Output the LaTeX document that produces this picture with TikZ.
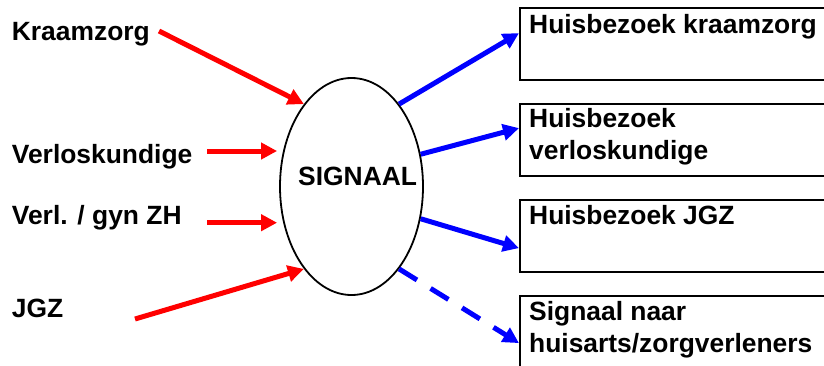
\documentclass[tikz,border=0pt]{standalone}
\usepackage{fontspec}
\setmainfont{Liberation Sans}
\usetikzlibrary{arrows.meta,shapes.geometric}
\begin{document}
\begin{tikzpicture}[x=1pt,y=-1pt,
  lbl/.style={font=\fontsize{26.4pt}{32pt}\selectfont\bfseries, inner sep=0pt, anchor=base west},
  boxnode/.style={draw, line width=2.2pt, minimum width=330pt, minimum height=72pt, anchor=north west, inner sep=0pt},
  redarr/.style={red, line width=5pt, -{Triangle[length=16pt,width=16pt]}},
  bluearr/.style={blue, line width=5pt, -{Triangle[length=16pt,width=16pt]}},
  dasharr/.style={bluearr, dash pattern=on 21pt off 16pt},
]
\useasboundingbox (0,0) rectangle (824,365);
\clip (0,0) rectangle (824,365);

% left labels
\node[lbl] (kraam) at (11.7,40.7) {Kraamzorg};
\node[lbl] (verlos) at (11.7,163) {Verloskundige};
\node[lbl] (verl) at (11.7,224) {Verl. / gyn ZH};
\node[lbl] (jgz) at (11.7,317) {JGZ};

% central ellipse
\node[draw, ellipse, line width=1.8pt, minimum width=143pt, minimum height=217pt, inner sep=0pt] (sig) at (351.5,186.5) {};
\node[lbl] (sigtxt) at (298,185) {SIGNAAL};

% boxes
\node[boxnode] (b1) at (519,7) {};
\node[lbl] (t1) at ([shift={(10pt,-26pt)}]b1.north west) {Huisbezoek kraamzorg};
\node[boxnode] (b2) at (519,103) {};
\node[lbl, align=left] (t2) at ([shift={(10pt,-56pt)}]b2.north west) {Huisbezoek\\verloskundige};
\node[boxnode] (b3) at (519,199) {};
\node[lbl] (t3) at ([shift={(10pt,-25pt)}]b3.north west) {Huisbezoek JGZ};
\node[boxnode] (b4) at (519,295) {};
\node[lbl, align=left] (t4) at ([shift={(10pt,-57pt)}]b4.north west) {Signaal naar\\huisarts/zorgverleners};

% incoming red arrows
\coordinate (s1) at (159,31);
\coordinate (s2) at (207,151);
\coordinate (s3) at (207,222.7);
\coordinate (s4) at (135,319);
\draw[redarr] (s1) -- (sig.120);
\draw[redarr] (s2) -- ([xshift=-2pt]s2 -| sig.west);
\draw[redarr] (s3) -- ([xshift=-2pt]s3 -| sig.west);
\draw[redarr] (s4) -- (sig.240);

% outgoing blue arrows
\draw[bluearr] (sig.60) -- ([yshift=11pt]b1.west);
\draw[bluearr] (sig.25) -- ([yshift=12pt]b2.west);
\draw[bluearr] (sig.-25) -- ([yshift=-12pt]b3.west);
\draw[dasharr] (sig.-60) -- ([yshift=-11pt]b4.west);
\end{tikzpicture}
\end{document}
